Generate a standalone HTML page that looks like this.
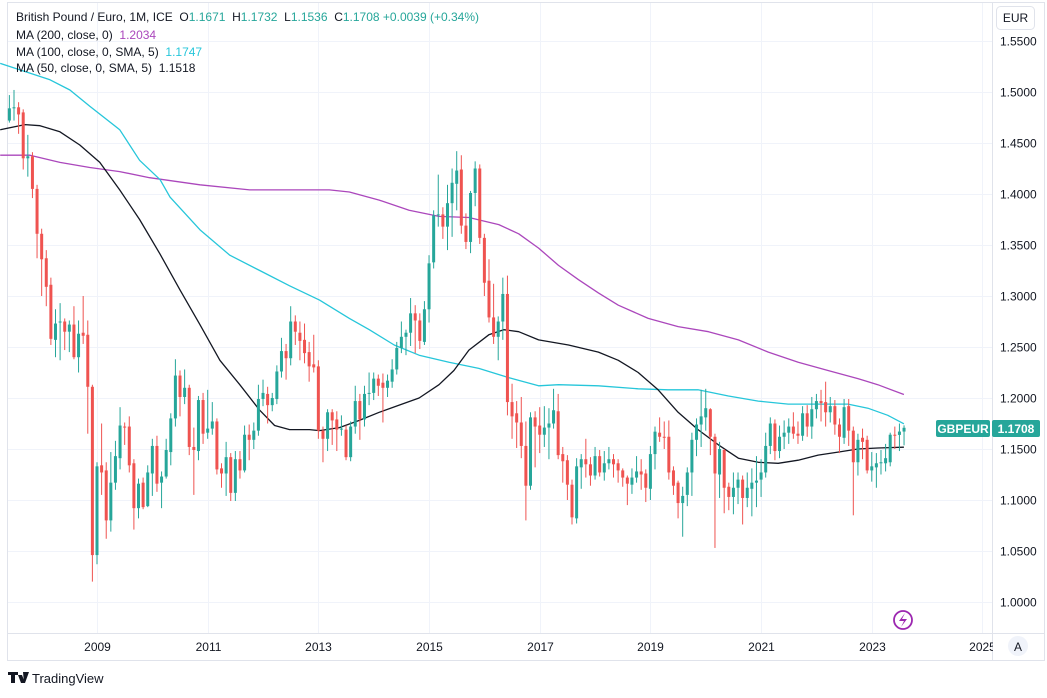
<!DOCTYPE html>
<html><head><meta charset="utf-8">
<style>
html,body{margin:0;padding:0;background:#fff;}
body{width:1047px;height:693px;overflow:hidden;font-family:"Liberation Sans",sans-serif;}
svg text{font-family:"Liberation Sans",sans-serif;white-space:pre;}
</style></head>
<body>
<svg id="chart" width="1047" height="693" viewBox="0 0 1047 693" xmlns="http://www.w3.org/2000/svg" xml:space="preserve">
  <rect x="0" y="0" width="1047" height="693" fill="#ffffff"/>
  <rect x="7.5" y="2.5" width="1037" height="658" fill="none" stroke="#e0e3eb" stroke-width="1"/>
  <g id="grid"></g>
  <g id="ma"></g>
  <g id="candles"></g>
  <line x1="992.5" y1="2" x2="992.5" y2="661" stroke="#e0e3eb"/>
  <line x1="7" y1="633.5" x2="1045" y2="633.5" stroke="#e0e3eb"/>
  <g id="yaxis"></g>
  <g id="xaxis"></g>
  <g>
    <rect x="996.5" y="6.5" width="38" height="23" rx="4" fill="#fff" stroke="#e0e3eb"/>
    <text x="1015.5" y="22" font-size="12" fill="#131722" text-anchor="middle">EUR</text>
  </g>
  <g>
    <text x="16" y="21" font-size="12" fill="#131722">British Pound / Euro, 1M, ICE  O<tspan fill="#26a69a">1.1671</tspan>  H<tspan fill="#26a69a">1.1732</tspan>  L<tspan fill="#26a69a">1.1536</tspan>  C<tspan fill="#26a69a">1.1708</tspan> <tspan fill="#26a69a">+0.0039 (+0.34%)</tspan></text>
    <text x="16" y="39" font-size="12" fill="#131722">MA (200, close, 0)  <tspan fill="#ab47bc">1.2034</tspan></text>
    <text x="16" y="56" font-size="12" fill="#131722">MA (100, close, 0, SMA, 5)  <tspan fill="#26c6da">1.1747</tspan></text>
    <text x="16" y="72" font-size="12" fill="#131722">MA (50, close, 0, SMA, 5)  1.1518</text>
  </g>
  <g>
    <rect x="936" y="420" width="54" height="17" rx="2" fill="#26a69a"/>
    <text x="963" y="433" font-size="12" fill="#fff" text-anchor="middle" font-weight="bold">GBPEUR</text>
    <rect x="992" y="420" width="48" height="17" rx="2" fill="#26a69a"/>
    <text x="1016" y="433" font-size="12" fill="#fff" text-anchor="middle" font-weight="bold">1.1708</text>
  </g>
  <g>
    <circle cx="903" cy="620" r="9" fill="none" stroke="#9c27b0" stroke-width="1.8"/>
    <path d="M905 613 L899 621 L904 621 L901 627 L907 619 L902 619 Z" fill="#9c27b0"/>
  </g>
  <g>
    <circle cx="1018" cy="646" r="10" fill="#f0f3fa"/>
    <text x="1018" y="651" font-size="12" fill="#131722" text-anchor="middle">A</text>
  </g>
  <g>
    <path d="M8 672 h10 v3 h-3 v8 h-4 v-8 h-3 Z M18 675 h4 l3 8 h-4 Z M23 672 h6 l-4 11 h-1 Z" fill="#131722"/>
    <text x="32" y="683" font-size="13" fill="#131722">TradingView</text>
  </g>
</svg>
<script>
const opens=[1.472,1.484,1.485,1.480,1.435,1.437,1.405,1.361,1.337,1.311,1.257,1.274,1.275,1.265,1.272,1.240,1.264,1.262,1.211,1.046,1.134,1.129,1.080,1.117,1.141,1.172,1.172,1.136,1.092,1.117,1.094,1.126,1.153,1.117,1.123,1.147,1.180,1.222,1.201,1.210,1.152,1.148,1.198,1.166,1.170,1.177,1.131,1.126,1.142,1.107,1.140,1.129,1.164,1.159,1.168,1.199,1.204,1.193,1.199,1.226,1.246,1.239,1.275,1.264,1.257,1.245,1.233,1.231,1.168,1.160,1.186,1.179,1.169,1.169,1.142,1.172,1.197,1.179,1.204,1.205,1.219,1.215,1.210,1.216,1.228,1.249,1.260,1.264,1.283,1.276,1.255,1.287,1.333,1.380,1.380,1.368,1.391,1.410,1.424,1.369,1.353,1.401,1.425,1.357,1.315,1.279,1.260,1.275,1.302,1.196,1.185,1.176,1.153,1.114,1.181,1.173,1.164,1.171,1.175,1.187,1.145,1.139,1.115,1.082,1.132,1.140,1.135,1.124,1.143,1.127,1.136,1.140,1.136,1.129,1.122,1.115,1.122,1.128,1.126,1.111,1.145,1.166,1.162,1.162,1.129,1.117,1.097,1.105,1.127,1.159,1.174,1.181,1.189,1.162,1.125,1.149,1.113,1.103,1.112,1.120,1.102,1.111,1.117,1.120,1.127,1.153,1.175,1.148,1.162,1.166,1.172,1.165,1.163,1.185,1.172,1.189,1.197,1.196,1.186,1.192,1.174,1.161,1.192,1.168,1.137,1.161,1.159,1.129,1.132,1.136,1.136,1.137,1.164,1.1638,1.1671];
const highs=[1.497,1.502,1.490,1.483,1.458,1.441,1.409,1.366,1.345,1.318,1.287,1.293,1.278,1.276,1.290,1.276,1.300,1.276,1.213,1.137,1.175,1.137,1.147,1.158,1.191,1.176,1.182,1.140,1.121,1.122,1.134,1.160,1.163,1.128,1.160,1.185,1.238,1.227,1.228,1.213,1.171,1.202,1.205,1.208,1.196,1.180,1.136,1.157,1.146,1.148,1.148,1.173,1.174,1.176,1.213,1.218,1.211,1.205,1.232,1.259,1.253,1.290,1.281,1.275,1.273,1.255,1.262,1.237,1.172,1.189,1.189,1.187,1.183,1.173,1.177,1.212,1.204,1.212,1.225,1.225,1.223,1.224,1.223,1.238,1.255,1.275,1.267,1.298,1.291,1.283,1.295,1.340,1.384,1.419,1.387,1.409,1.425,1.442,1.438,1.381,1.403,1.432,1.429,1.361,1.336,1.312,1.280,1.318,1.320,1.214,1.197,1.201,1.177,1.186,1.187,1.191,1.192,1.190,1.209,1.204,1.152,1.144,1.120,1.141,1.145,1.160,1.142,1.152,1.149,1.148,1.152,1.145,1.140,1.131,1.124,1.131,1.143,1.140,1.130,1.153,1.172,1.181,1.177,1.178,1.133,1.119,1.113,1.132,1.166,1.180,1.208,1.209,1.190,1.165,1.157,1.150,1.117,1.127,1.127,1.124,1.127,1.131,1.143,1.140,1.166,1.181,1.179,1.173,1.178,1.180,1.186,1.177,1.192,1.193,1.201,1.204,1.208,1.216,1.201,1.198,1.180,1.199,1.199,1.172,1.165,1.170,1.163,1.147,1.146,1.149,1.155,1.166,1.172,1.175,1.1732];
const lows=[1.470,1.472,1.459,1.424,1.417,1.396,1.337,1.300,1.290,1.252,1.240,1.237,1.247,1.245,1.238,1.225,1.253,1.165,1.020,1.037,1.105,1.062,1.069,1.110,1.130,1.154,1.127,1.071,1.082,1.091,1.093,1.104,1.108,1.092,1.121,1.134,1.172,1.182,1.194,1.144,1.105,1.139,1.155,1.160,1.164,1.125,1.112,1.104,1.099,1.099,1.121,1.127,1.139,1.150,1.163,1.192,1.175,1.187,1.194,1.220,1.218,1.232,1.252,1.237,1.234,1.216,1.225,1.160,1.137,1.148,1.154,1.148,1.163,1.139,1.138,1.165,1.159,1.172,1.193,1.198,1.202,1.176,1.201,1.210,1.223,1.244,1.242,1.251,1.244,1.248,1.252,1.274,1.327,1.368,1.356,1.345,1.358,1.384,1.361,1.346,1.342,1.388,1.351,1.300,1.274,1.253,1.237,1.257,1.183,1.160,1.151,1.141,1.080,1.110,1.132,1.146,1.152,1.140,1.170,1.140,1.117,1.100,1.076,1.077,1.111,1.122,1.114,1.120,1.123,1.119,1.130,1.122,1.117,1.113,1.095,1.106,1.117,1.110,1.098,1.100,1.130,1.157,1.150,1.120,1.105,1.082,1.064,1.094,1.104,1.143,1.152,1.168,1.144,1.053,1.102,1.087,1.090,1.086,1.096,1.076,1.093,1.084,1.093,1.103,1.122,1.145,1.139,1.141,1.150,1.155,1.160,1.155,1.158,1.162,1.160,1.180,1.177,1.172,1.176,1.164,1.146,1.155,1.153,1.085,1.124,1.140,1.126,1.118,1.112,1.125,1.128,1.133,1.150,1.148,1.1536];
const closes=[1.484,1.485,1.478,1.435,1.437,1.405,1.361,1.336,1.309,1.258,1.273,1.275,1.265,1.272,1.240,1.263,1.261,1.211,1.046,1.133,1.127,1.080,1.117,1.143,1.173,1.171,1.134,1.092,1.116,1.093,1.127,1.153,1.116,1.123,1.149,1.180,1.222,1.201,1.210,1.152,1.149,1.198,1.165,1.170,1.177,1.130,1.126,1.142,1.107,1.140,1.129,1.164,1.159,1.168,1.199,1.205,1.193,1.200,1.226,1.246,1.239,1.275,1.265,1.256,1.244,1.231,1.230,1.168,1.160,1.186,1.178,1.169,1.170,1.142,1.172,1.197,1.179,1.204,1.205,1.219,1.212,1.210,1.217,1.228,1.249,1.260,1.264,1.283,1.276,1.256,1.287,1.332,1.379,1.380,1.368,1.391,1.411,1.423,1.369,1.353,1.401,1.425,1.357,1.313,1.279,1.260,1.275,1.302,1.196,1.182,1.176,1.153,1.114,1.181,1.172,1.164,1.171,1.175,1.188,1.144,1.138,1.115,1.083,1.133,1.140,1.135,1.124,1.143,1.127,1.136,1.140,1.135,1.129,1.122,1.116,1.122,1.128,1.125,1.112,1.145,1.167,1.162,1.161,1.127,1.114,1.097,1.104,1.127,1.159,1.174,1.182,1.190,1.162,1.126,1.150,1.112,1.103,1.112,1.120,1.102,1.112,1.117,1.119,1.127,1.153,1.175,1.148,1.162,1.166,1.172,1.165,1.163,1.185,1.172,1.189,1.197,1.195,1.186,1.192,1.174,1.162,1.191,1.168,1.137,1.159,1.157,1.129,1.133,1.136,1.137,1.141,1.164,1.163,1.1671,1.1708];
const startYear=2007, startMonth=5; // June 2007 (0-based month)
const ma200Years=[2007.25,2007.79,2008.33,2008.87,2009.41,2009.95,2010.86,2011.76,2012.66,2013.20,2013.56,2014.10,2014.64,2015.18,2015.72,2016.26,2016.62,2016.98,2017.34,2017.70,2018.06,2018.42,2018.96,2019.50,2020.05,2020.59,2021.13,2021.67,2022.21,2022.75,2023.11,2023.58];
const ma200Vals=[1.438,1.438,1.431,1.426,1.422,1.416,1.409,1.404,1.404,1.404,1.402,1.394,1.384,1.378,1.377,1.370,1.361,1.347,1.330,1.316,1.303,1.291,1.278,1.270,1.265,1.257,1.245,1.235,1.227,1.219,1.213,1.2034];
const ma100Years=[2007.25,2008.15,2008.51,2008.87,2009.41,2009.77,2010.14,2010.32,2010.86,2011.40,2011.94,2012.48,2013.02,2013.56,2013.92,2014.37,2014.82,2015.36,2015.90,2016.44,2016.98,2017.34,2018.06,2018.78,2019.32,2019.86,2020.41,2020.95,2021.49,2022.03,2022.57,2022.93,2023.29,2023.58];
const ma100Vals=[1.528,1.512,1.502,1.486,1.463,1.433,1.414,1.397,1.365,1.340,1.325,1.310,1.296,1.278,1.267,1.252,1.242,1.235,1.229,1.220,1.212,1.213,1.212,1.209,1.208,1.208,1.202,1.197,1.194,1.194,1.194,1.190,1.183,1.1747];
const ma50Years=[2007.25,2007.70,2007.97,2008.33,2008.69,2009.05,2009.41,2009.77,2010.14,2010.50,2010.86,2011.22,2011.58,2011.94,2012.21,2012.48,2012.84,2013.02,2013.38,2013.74,2014.10,2014.46,2014.82,2015.18,2015.45,2015.72,2016.08,2016.35,2016.62,2016.98,2017.52,2018.06,2018.42,2018.78,2019.14,2019.50,2019.86,2020.23,2020.59,2020.95,2021.31,2021.67,2022.03,2022.39,2022.75,2023.11,2023.58];
const ma50Vals=[1.463,1.468,1.467,1.461,1.448,1.431,1.404,1.375,1.341,1.306,1.272,1.237,1.213,1.188,1.173,1.169,1.169,1.168,1.171,1.178,1.186,1.193,1.200,1.213,1.227,1.247,1.262,1.267,1.265,1.257,1.252,1.245,1.237,1.225,1.208,1.186,1.169,1.154,1.141,1.137,1.136,1.139,1.144,1.147,1.150,1.151,1.1518];
const priceTicks=[1.00,1.05,1.10,1.15,1.20,1.25,1.30,1.35,1.40,1.45,1.50,1.55];
const yearTicks=[2009,2011,2013,2015,2017,2019,2021,2023,2025];

const NS='http://www.w3.org/2000/svg';
const PLOT_L=8, PLOT_R=992;
function xOfYear(yr){return 97+(yr-2009)*55.34;}
function xOfIndex(i){return xOfYear(startYear+(startMonth+i)/12);}
function yOf(v){return 602-(v-1)*1020;}
function mk(tag,attrs,parent){const e=document.createElementNS(NS,tag);for(const k in attrs)e.setAttribute(k,attrs[k]);parent.appendChild(e);return e;}

const grid=document.getElementById('grid');
const yaxis=document.getElementById('yaxis');
const xaxis=document.getElementById('xaxis');
priceTicks.forEach(v=>{
  const y=Math.round(yOf(v))+0.5;
  const gl=mk('line',{x1:PLOT_L,x2:PLOT_R,y1:y,y2:y,stroke:'#f0f3fa','stroke-width':1},grid);
  
  
  const t=mk('text',{x:1000,y:y+4,'font-size':12,fill:'#131722'},yaxis);
  t.textContent=v.toFixed(4);
  
  
});
yearTicks.forEach(yr=>{
  const x=Math.round(xOfYear(yr))+0.5;
  if(x<PLOT_R){
    const gl=mk('line',{x1:x,x2:x,y1:3,y2:633,stroke:'#f0f3fa','stroke-width':1},grid);
    
    
  }
  const t=mk('text',{x:x,y:651,'font-size':12,fill:'#131722','text-anchor':'middle'},xaxis);
  t.textContent=String(yr);
  
  
});
const cover=mk('rect',{x:993,y:634,width:51,height:26,fill:'#fff'},xaxis);



const ma=document.getElementById('ma');
function drawLine(years,vals,color,name){
  const pts=years.map((yr,k)=>xOfYear(yr).toFixed(1)+','+yOf(vals[k]).toFixed(1)).join(' ');
  const p=mk('polyline',{points:pts,fill:'none',stroke:color,'stroke-width':1.3,'stroke-linejoin':'round'},ma);
  
  
}
drawLine(ma200Years,ma200Vals,'#ab47bc','ma200-line');
drawLine(ma100Years,ma100Vals,'#26c6da','ma100-line');
drawLine(ma50Years,ma50Vals,'#131722','ma50-line');

const cg=document.getElementById('candles');
closes.forEach((c,i)=>{
  const o=opens[i],h=highs[i],l=lows[i];
  const x=xOfIndex(i);
  const col=c>=o?'#26a69a':'#ef5350';
  const g=mk('g',{},cg);
  
  
  mk('line',{x1:x,x2:x,y1:yOf(h),y2:yOf(l),stroke:col,'stroke-width':1},g);
  const top=yOf(Math.max(o,c)),bot=yOf(Math.min(o,c));
  mk('rect',{x:x-1.5,y:top,width:3,height:Math.max(1,bot-top),fill:col},g);
});
</script>
</body></html>
